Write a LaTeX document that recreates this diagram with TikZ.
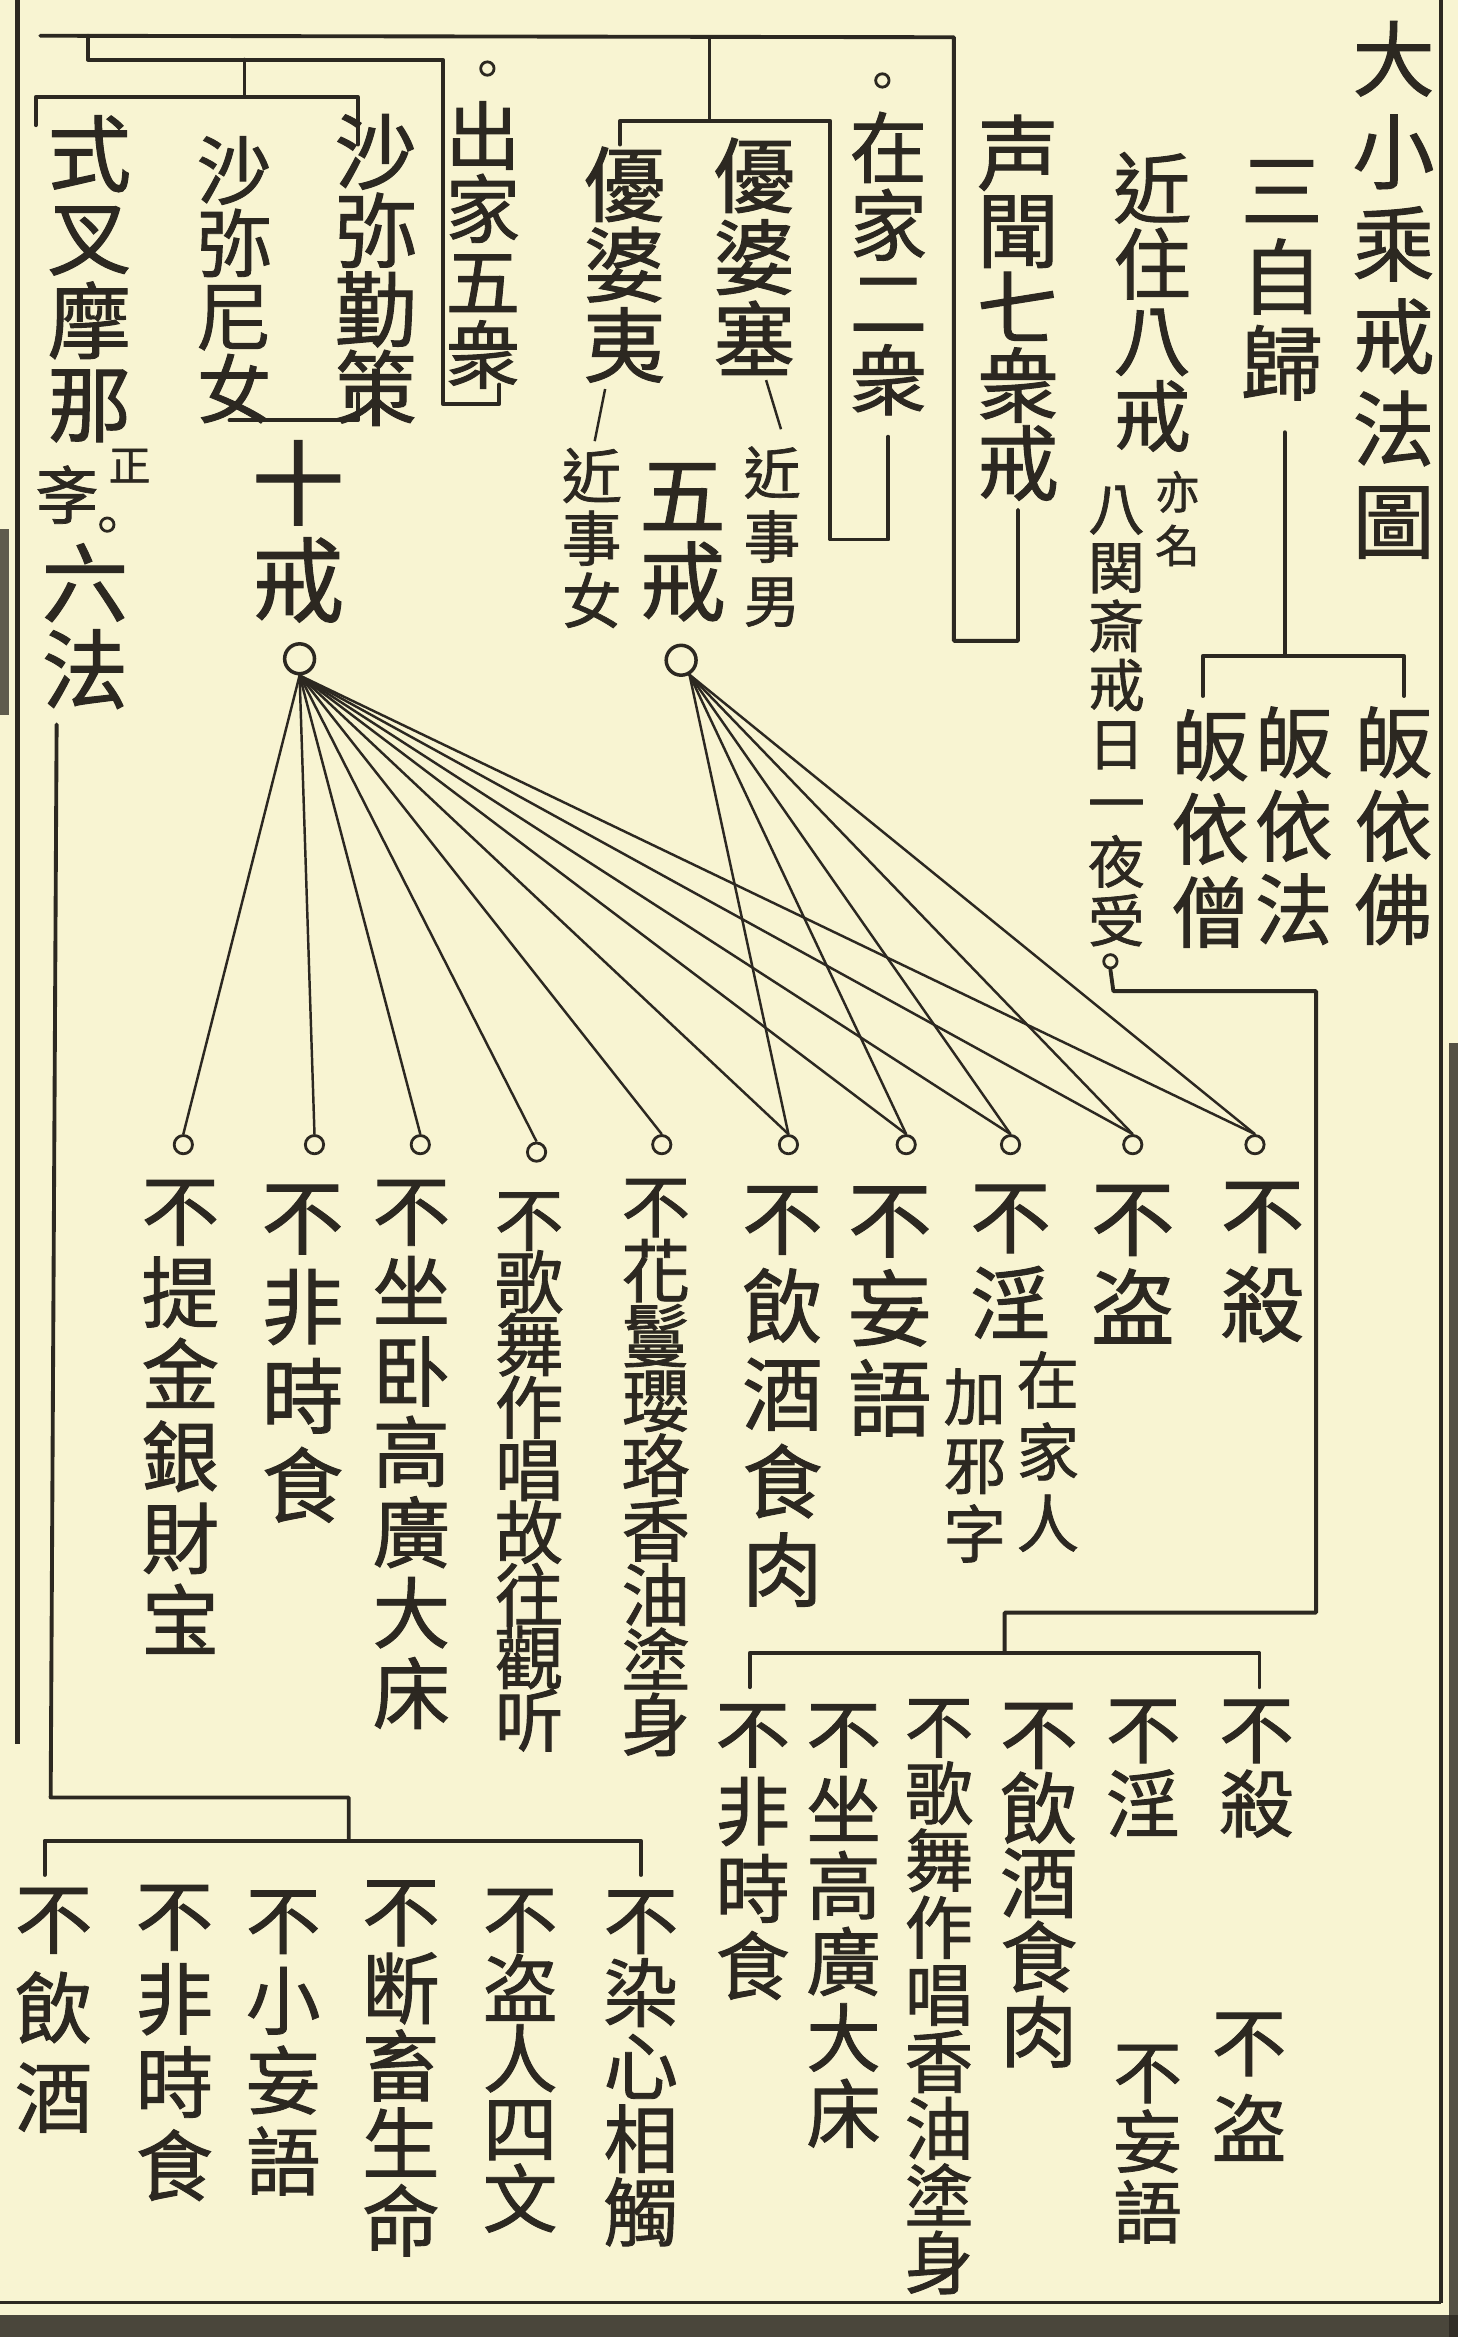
\documentclass[tikz,border=0pt]{standalone}
\usepackage{fontspec}
\newfontfamily\cjk[FakeBold=1.2]{Noto Sans CJK TC}
\usetikzlibrary{calc}
\definecolor{paper}{RGB}{248,244,210}
\definecolor{inkc}{RGB}{44,40,33}
\makeatletter
\newcommand\vcol[1]{\vbox{\lineskiplimit=-\maxdimen\@tfor\vch:=#1\do{\hbox to 1em{\hss\vch\hss\vrule height .88em depth .12em width 0pt}}}}
\makeatother
\newcommand\fsz[2]{\fontsize{\fpeval{#1*0.4242}pt}{\fpeval{#2*0.4242}pt}\selectfont}
\tikzset{
  vt/.style 2 args={inner sep=0pt, outer sep=0pt, anchor=north, text=inkc, font={\cjk\fsz{#1}{#2}}},
  ink/.style={draw=inkc, line width=1.1pt, line cap=round, line join=round},
  fanline/.style={draw=inkc, line width=0.7pt},
  ring/.style={circle, draw=inkc, fill=paper, line width=0.8pt, inner sep=0pt, minimum size=#1},
}
\begin{document}
\begin{tikzpicture}[x=0.014908cm, y=-0.014908cm]
\fill[paper] (0,0) rectangle (978,1568);
\useasboundingbox (0,0) rectangle (978,1568);

% ---- right part
\node[vt={55}{62}] (title) at (935,12) {\vcol{大小乘戒法圖}};
\node[vt={55}{58}] (sanzi) at (860,100) {\vcol{三自歸}};
\node[vt={52}{56}] (guifo) at (935,472) {\vcol{皈依佛}};
\node[vt={52}{56}] (guifa) at (868,472) {\vcol{皈依法}};
\node[vt={52}{56}] (guiseng) at (812,474) {\vcol{皈依僧}};
\node[vt={52}{51}] (jinzhu) at (773,100) {\vcol{近住八戒}};
\node[vt={30}{36}] (yiming) at (790,315) {\vcol{亦名}};
\node[vt={38}{39.5}] (baguan) at (749,322) {\vcol{八関斎戒日一夜受}};
\node[ring=3.8pt] (jz) at (745,645) {};

% ---- middle top
\node[vt={55}{52}] (shengwen) at (683,75) {\vcol{声聞七衆戒}};
\node[ring=3.8pt] (zjc) at (592,54) {};
\node[vt={52}{52}] (zaijia) at (596,73) {\vcol{在家二衆}};
\node[vt={55}{55}] (youposai) at (506,90) {\vcol{優婆塞}};
\node[vt={55}{54}] (youpoyi) at (419,96) {\vcol{優婆夷}};
\node[vt={38}{43}] (jinshinan) at (518,298) {\vcol{近事男}};
\node[vt={40}{42}] (jinshinv) at (397,299) {\vcol{近事女}};
\node[vt={58}{58}] (wujie) at (458,303) {\vcol{五戒}};
\node[ring=8.5pt, line width=1pt] (h5) at (457,443) {};

% ---- left top
\node[ring=3.8pt] (cjc) at (327,46) {};
\node[vt={50}{49}] (chujia) at (324,66) {\vcol{出家五衆}};
\node[vt={55}{53}] (shamile) at (252,74) {\vcol{沙弥勤策}};
\node[vt={50}{49}] (shamini) at (157,89) {\vcol{沙弥尼女}};
\node[vt={62}{65}] (shijie) at (200,293) {\vcol{十戒}};
\node[ring=8.5pt, line width=1pt] (h10) at (201,442) {};
\node[vt={56}{56}] (shicha) at (60,75) {\vcol{式叉摩那}};
\node[vt={28}{28}] (zheng) at (87,298) {\vcol{正}};
\node[vt={42}{42}] (xue) at (45,311) {\vcol{斈}};
\node[ring=3.8pt] (xuec) at (72,352) {};
\node[vt={58}{58}] (liufa) at (57,362) {\vcol{六法}};

% ---- ten precepts
\node[ring=5.2pt] (c1) at (123,768) {};
\node[ring=5.2pt] (c2) at (211,768) {};
\node[ring=5.2pt] (c3) at (282,768) {};
\node[ring=5.2pt] (c4) at (360,773) {};
\node[ring=5.2pt] (c5) at (444,768) {};
\node[ring=5.2pt] (c6) at (529,768) {};
\node[ring=5.2pt] (c7) at (608,768) {};
\node[ring=5.2pt] (c8) at (678,768) {};
\node[ring=5.2pt] (c9) at (760,768) {};
\node[ring=5.2pt] (c10) at (842,768) {};
\node[vt={52}{55}] (t1) at (121,786) {\vcol{不提金銀財宝}};
\node[vt={55}{60}] (t2) at (203,789) {\vcol{不非時食}};
\node[vt={52}{54}] (t3) at (276,786) {\vcol{不坐卧高廣大床}};
\node[vt={46}{42}] (t4) at (355,795) {\vcol{不歌舞作唱故往觀听}};
\node[vt={46}{43.5}] (t5) at (440,786) {\vcol{不花鬘瓔珞香油塗身}};
\node[vt={54}{59}] (t6) at (525,790) {\vcol{不飲酒食肉}};
\node[vt={56}{60}] (t7) at (597,790) {\vcol{不妄語}};
\node[vt={54}{58}] (t8) at (678,789) {\vcol{不淫}};
\node[vt={42}{48}] (t8a) at (703,905) {\vcol{在家人}};
\node[vt={42}{46}] (t8b) at (654,916) {\vcol{加邪字}};
\node[vt={56}{60}] (t9) at (760,789) {\vcol{不盗}};
\node[vt={56}{60}] (t10) at (847,787) {\vcol{不殺}};

% ---- eight precepts
\node[vt={50}{50}] (e1) at (843,1135) {\vcol{不殺}};
\node[vt={50}{50}] (e2) at (767,1135) {\vcol{不淫}};
\node[vt={52}{50}] (e3) at (697,1137) {\vcol{不飲酒食肉}};
\node[vt={46}{45}] (e4) at (630,1135) {\vcol{不歌舞作唱香油塗身}};
\node[vt={50}{51}] (e5) at (566,1138) {\vcol{不坐高廣大床}};
\node[vt={50}{52}] (e6) at (505,1138) {\vcol{不非時食}};
\node[vt={50}{58}] (e7) at (838,1345) {\vcol{不盗}};
\node[vt={46}{47}] (e8) at (770,1367) {\vcol{不妄語}};

% ---- six laws
\node[vt={50}{49}] (s1) at (430,1263) {\vcol{不染心相觸}};
\node[vt={50}{47}] (s2) at (349,1262) {\vcol{不盗人四文}};
\node[vt={52}{52}] (s3) at (269,1256) {\vcol{不断畜生命}};
\node[vt={50}{54}] (s4) at (190,1263) {\vcol{不小妄語}};
\node[vt={52}{56}] (s5) at (117,1259) {\vcol{不非時食}};
\node[vt={52}{60}] (s6) at (36,1261) {\vcol{不飲酒}};

% ---- fan lines
\foreach \i in {1,...,10} \draw[fanline] (h10.south) -- (c\i.north);
\foreach \i in {6,...,10} \draw[fanline] (h5.-60) -- (c\i.north);

% ---- brackets
\draw[ink] ($(sanzi.south)+(2,19)$) -- (862,440);
\draw[ink] (807,467) -- (807,440) -- (942,440) -- (942,467);
\draw[ink] (jz.south) -- (747,665) -- (883,665) -- (883,1082) -- (674,1082) -- (674,1109);
\draw[ink] (503,1132) -- (503,1109) -- (845,1109) -- (845,1132);
\draw[ink] ($(shengwen.south)+(0,4)$) -- (683,430) -- (640,430) -- (640,25) -- (27,24);
\draw[ink] (476,25) -- (476,81);
\draw[ink] (416,97) -- (416,81) -- (557,81) -- (557,362) -- (596,362) -- (596,293);
\draw[ink] (59,24) -- (59,40) -- (297,40) -- (297,271) -- (335,271) -- (335,258);
\draw[ink] (164,40) -- (164,65);
\draw[ink] (240,97) -- (240,65) -- (24,65) -- (24,84);
\draw[ink] ($(liufa.south)+(-19,8)$) -- (34,1206) -- (234,1206) -- (234,1235);
\draw[ink] (154,282) -- (240,282) -- (240,264);
\draw[ink] (30,1258) -- (30,1235) -- (430,1235) -- (430,1258);
\draw[inkc, line width=0.7pt] ($(youposai.south)+(8,0)$) -- ($(jinshinan.north)+(6,-10)$);
\draw[inkc, line width=0.7pt] ($(youpoyi.south)+(-13,2)$) -- ($(jinshinv.north)+(2,-3)$);

% ---- page borders
\draw[inkc, line width=1.2pt] (967,0) -- (967,1545);
\fill[inkc, opacity=0.8] (972,700) rectangle (978,1568);
\draw[inkc, line width=0.8pt] (0,1545) -- (967,1545);
\fill[inkc, opacity=0.85] (0,1553) rectangle (978,1568);
\draw[inkc, line width=1.4pt] (12,0) -- (12,1170);
\fill[inkc, opacity=0.75] (0,355) rectangle (6,480);
\end{tikzpicture}
\end{document}
